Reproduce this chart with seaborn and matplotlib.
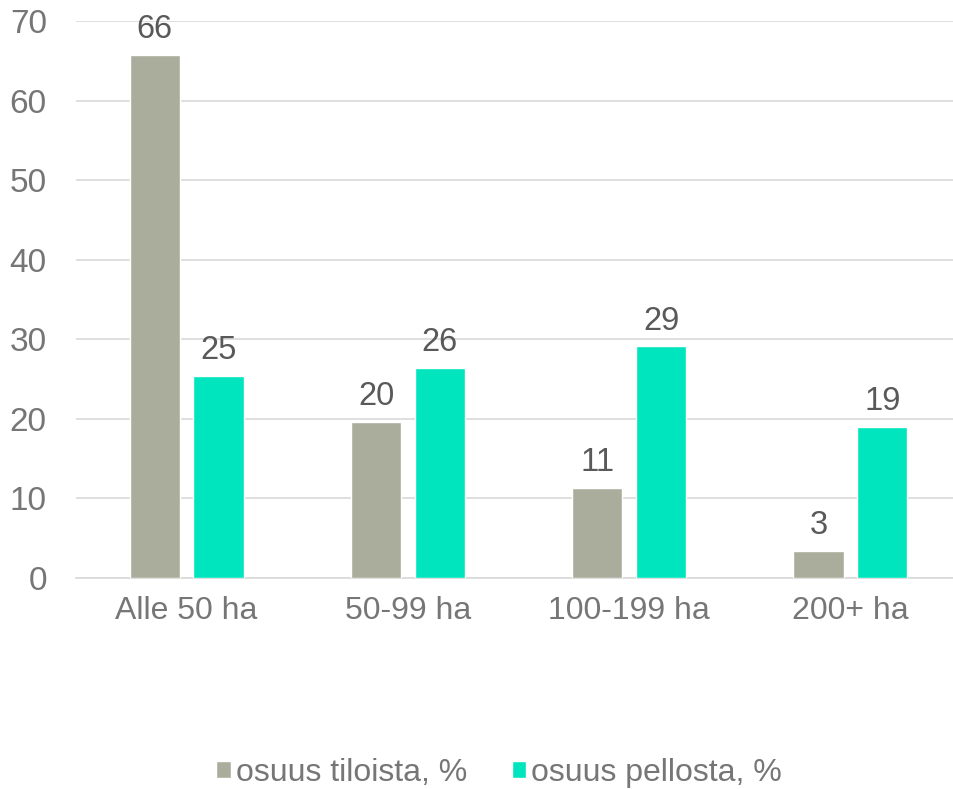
import pandas as pd
import numpy as np
import seaborn as sns
import matplotlib.pyplot as plt
from matplotlib.patches import Patch

categories = ['Alle 50 ha', '50-99 ha', '100-199 ha', '200+ ha']
series = ['osuus tiloista, %', 'osuus pellosta, %']
tiloista = [65.7, 19.6, 11.3, 3.4]
pellosta = [25.4, 26.4, 29.1, 19.0]

data = pd.DataFrame({
    'Category': categories * 2,
    'Series': [series[0]] * 4 + [series[1]] * 4,
    'Value': tiloista + pellosta,
})

colors = ['#ABAD9C', '#00E5BE']
sns.set_style('white')
plt.rcParams['font.family'] = ['Liberation Sans', 'DejaVu Sans']

fig = plt.figure(figsize=(9.54, 7.89), dpi=100)
ax = fig.add_axes([0.0797, 0.2674, 0.9277, 0.706])

sns.barplot(x='Category', y='Value', hue='Series', data=data, palette=colors,
            saturation=1, width=0.576, gap=0.21, ax=ax, legend=False, zorder=3)

for container in ax.containers:
    ax.bar_label(container, fmt='%.0f', padding=7, fontsize=23.5, color='#595959')

ax.set_ylim(0, 70)
ax.set_xlim(-0.5, 3.5)
ax.set_yticks(range(0, 71, 10))
ax.yaxis.grid(True, color='#D9D9D9', linewidth=1.2, zorder=0)
ax.xaxis.grid(False)
for s in ['top', 'right', 'left']:
    ax.spines[s].set_visible(False)
ax.spines['bottom'].set_color('#D9D9D9')
ax.spines['bottom'].set_linewidth(1.2)
ax.tick_params(axis='both', length=0, labelcolor='#767676')
ax.tick_params(axis='x', pad=13, labelsize=23)
ax.tick_params(axis='y', pad=21, labelsize=24)
ax.set_xlabel('')
ax.set_ylabel('')

handles = [Patch(facecolor=c, label=l) for c, l in zip(colors, series)]
fig.legend(handles=handles, loc='center', bbox_to_anchor=(0.523, 0.02), ncol=2,
           frameon=False, fontsize=23, labelcolor='#767676', handlelength=0.45,
           handleheight=0.45, handletextpad=0.15, columnspacing=1.4)

fig.savefig('out.png', dpi=100)
